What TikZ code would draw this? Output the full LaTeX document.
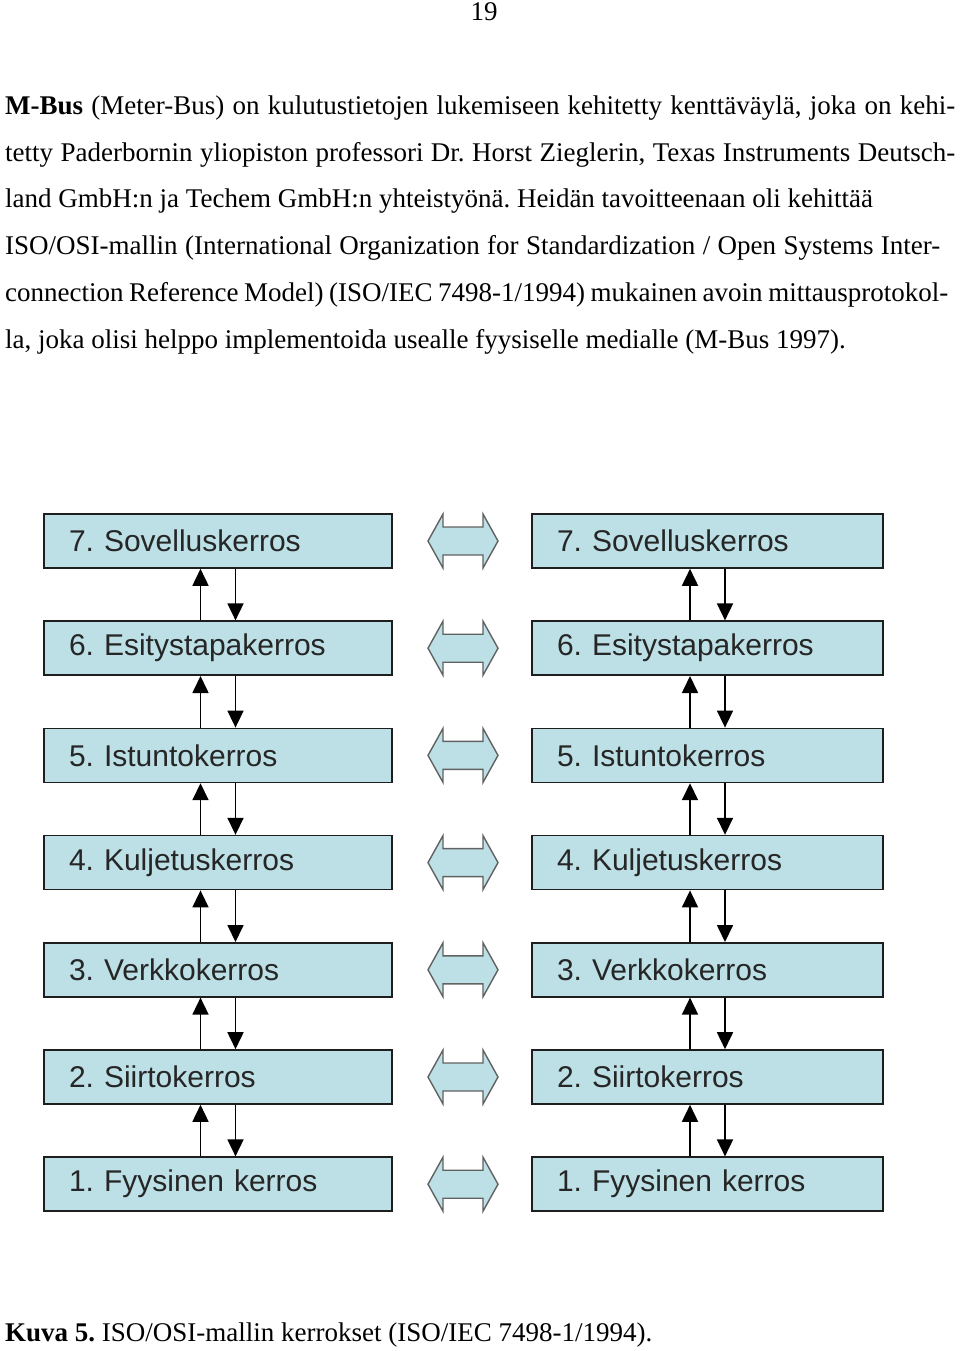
\documentclass[tikz,border=0pt]{standalone}
\usepackage{fontspec}
\setmainfont{Liberation Serif}
\newfontfamily\boxfont{Liberation Sans}
\usetikzlibrary{arrows.meta,calc}
\definecolor{layerfill}{RGB}{188,224,230}
\definecolor{edge}{RGB}{30,30,30}
\newcommand{\jline}[2]{\hbox to #1pt{#2}}
\begin{document}
\begin{tikzpicture}[x=1pt,y=-1pt,
  bodytext/.style={anchor=west,inner sep=0pt,font=\fontsize{27}{30}\selectfont\frenchspacing},
  layer/.style={draw=edge,line width=1.6pt,fill=layerfill,minimum height=54pt,inner xsep=25pt,inner ysep=0pt,align=left,font=\boxfont\fontsize{30}{32}\selectfont\frenchspacing,text=black!85},
  leftlayer/.style={layer,text width=298pt},
  rightlayer/.style={layer,text width=301pt},
  vtip/.style={line width=1.7pt,-{Triangle[length=17pt,width=16pt]}},
  peer/.style={draw=edge!70,line width=1.4pt,fill=layerfill}
]
\useasboundingbox (0,0) rectangle (960,1351);
\node[anchor=center,inner sep=0pt,font=\fontsize{27}{30}\selectfont] (pg) at (484,12) {19};
\node[bodytext] (t1) at (5,108) {\jline{950}{\textbf{M-Bus} (Meter-Bus) on kulutustietojen lukemiseen kehitetty kenttäväylä, joka on kehi-}};
\node[bodytext] (t2) at (5,155) {\jline{950}{tetty Paderbornin yliopiston professori Dr. Horst Zieglerin, Texas Instruments Deutsch-}};
\node[bodytext] (t3) at (5,201) {land GmbH:n ja Techem GmbH:n yhteistyönä. Heidän tavoitteenaan oli kehittää};
\node[bodytext] (t4) at (5,248) {\jline{935}{ISO/OSI-mallin (International Organization for Standardization / Open Systems Inter-}};
\node[bodytext] (t5) at (5,295) {\jline{943}{connection Reference Model) (ISO/IEC 7498-1/1994) mukainen avoin mittausprotokol-}};
\node[bodytext] (t6) at (5,342) {la, joka olisi helppo implementoida usealle fyysiselle medialle (M-Bus 1997).};
\node[bodytext] (cap) at (5,1335) {\textbf{Kuva 5.} ISO/OSI-mallin kerrokset (ISO/IEC 7498-1/1994).};

\foreach \k/\name in {7/Sovelluskerros,6/Esitystapakerros,5/Istuntokerros,4/Kuljetuskerros,3/Verkkokerros,2/Siirtokerros,1/Fyysinen kerros}{
  \pgfmathsetmacro{\yy}{541+(7-\k)*107.2}
  \node[leftlayer] (L\k) at (218,\yy) {\k. \name};
  \node[rightlayer] (R\k) at (707.5,\yy) {\k. \name};
  \draw[peer] (428,\yy) -- ++(15,-27) -- ++(0,13) -- ++(40,0) -- ++(0,-13) -- ++(15,27) -- ++(-15,27) -- ++(0,-13) -- ++(-40,0) -- ++(0,13) -- cycle;
}
\foreach \a/\b in {7/6,6/5,5/4,4/3,3/2,2/1}{
  \draw[vtip] ([xshift=-17.5pt]L\b.north) -- ([xshift=-17.5pt]L\a.south);
  \draw[vtip] ([xshift=17.5pt]L\a.south) -- ([xshift=17.5pt]L\b.north);
  \draw[vtip] ([xshift=-17.5pt]R\b.north) -- ([xshift=-17.5pt]R\a.south);
  \draw[vtip] ([xshift=17.5pt]R\a.south) -- ([xshift=17.5pt]R\b.north);
}
\end{tikzpicture}
\end{document}
